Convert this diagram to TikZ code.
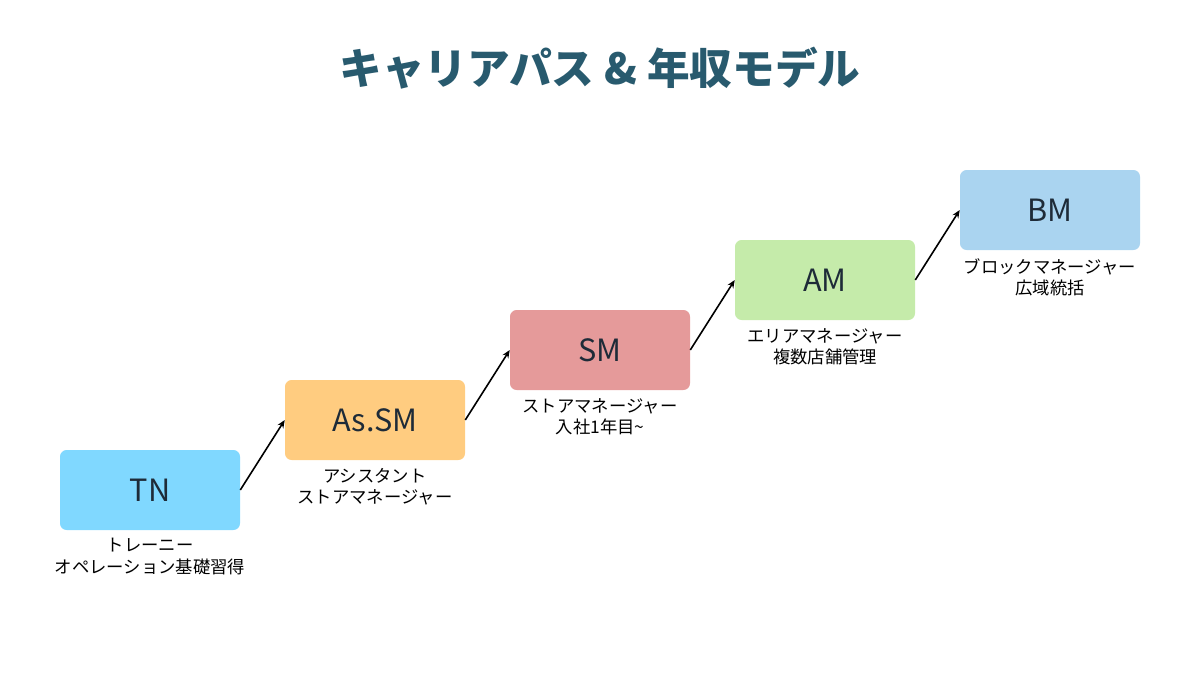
\documentclass[tikz,border=0pt]{standalone}
\usepackage{fontspec}
\setmainfont{Noto Sans CJK JP}
\usetikzlibrary{arrows.meta}
\definecolor{titlecol}{HTML}{285A6E}
\definecolor{textcol}{HTML}{1E2B38}
\definecolor{tncol}{HTML}{80D8FF}
\definecolor{ascol}{HTML}{FFCC80}
\definecolor{smcol}{HTML}{E59A9A}
\definecolor{amcol}{HTML}{C5EBAA}
\definecolor{bmcol}{HTML}{AAD4F0}

\begin{document}
\begin{tikzpicture}[x=0.75pt,y=-0.75pt,
  rank/.style={rectangle,rounded corners=5pt,minimum width=135pt,minimum height=60pt,
    inner sep=0pt,text=textcol,font=\fontsize{23}{27}\selectfont},
  note/.style={align=center,anchor=north,inner sep=0pt,text=black,
    font=\fontsize{13}{16}\selectfont},
  up/.style={-{Stealth[length=6pt,width=5pt]},line width=1.2pt}]
\useasboundingbox (0,0) rectangle (1200,700);
\node [text=titlecol,font=\fontsize{32}{38}\selectfont\bfseries] (title) at (600,68) {キャリアパス \& 年収モデル};
\node [rank,fill=tncol] (tn) at (150,490) {TN};
\node [rank,fill=ascol] (as) at (375,420) {As.SM};
\node [rank,fill=smcol] (sm) at (600,350) {SM};
\node [rank,fill=amcol] (am) at (825,280) {AM};
\node [rank,fill=bmcol] (bm) at (1050,210) {BM};
\node [note] (tnl) at (150,538) {トレーニー\\オペレーション基礎習得};
\node [note] (asl) at (375,468) {アシスタント\\ストアマネージャー};
\node [note] (sml) at (600,398) {ストアマネージャー\\入社1年目\textasciitilde};
\node [note] (aml) at (825,328) {エリアマネージャー\\複数店舗管理};
\node [note] (bml) at (1050,258) {ブロックマネージャー\\広域統括};
\draw [up] (tn.east) -- (as.west);
\draw [up] (as.east) -- (sm.west);
\draw [up] (sm.east) -- (am.west);
\draw [up] (am.east) -- (bm.west);
\end{tikzpicture}
\end{document}
